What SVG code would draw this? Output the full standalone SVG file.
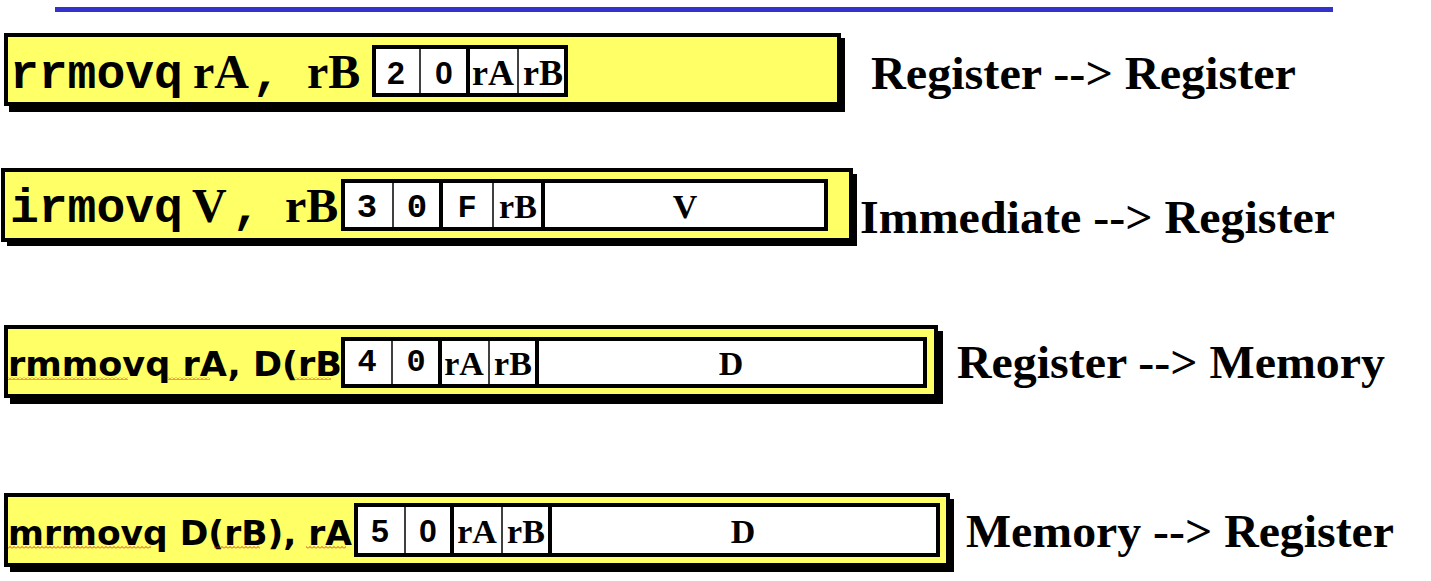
<svg xmlns="http://www.w3.org/2000/svg" width="1431" height="581" viewBox="0 0 1431 581">
<defs>
<pattern id="squig" width="4" height="3" patternUnits="userSpaceOnUse">
<path d="M0 2.5 L2 0.5 L4 2.5" fill="none" stroke="#e02020" stroke-width="0.9"/>
</pattern>
<style>
.shadow{fill:#000}
.box{fill:#FFFF66;stroke:#000;stroke-width:4}
.field{fill:#fff;stroke:#000;stroke-width:4}
.thin{stroke:#000;stroke-width:1.5}
.thick{stroke:#000;stroke-width:4}
.mono{font-family:"Liberation Mono","DejaVu Sans Mono",monospace;font-weight:bold}
.serif{font-family:"Liberation Serif","DejaVu Serif",serif;font-weight:bold}
.sans{font-family:"Liberation Sans",Arial,sans-serif;font-weight:bold}
.comic{font-family:"DejaVu Sans","Noto Sans",sans-serif;font-weight:bold;font-size:33px}
.lbl{font-family:"Liberation Serif","DejaVu Serif",serif;font-weight:bold;font-size:46px;fill:#000}
.cell{text-anchor:middle}
.sq{fill:url(#squig)}
</style>
</defs>
<rect x="55" y="7" width="1278" height="5" fill="#3333CC"/>

<g id="rrmovq">
<rect class="shadow" x="9" y="38" width="836" height="74"/>
<rect class="box" x="6" y="35" width="833" height="69"/>
<text x="10" y="88" class="mono" font-size="48">rrmovq</text>
<text x="193" y="88" class="serif" font-size="48">rA</text>
<text x="252" y="88" class="mono" font-size="48">,</text>
<text x="307" y="88" class="serif" font-size="48">rB</text>
<rect class="field" x="374" y="47" width="192" height="48"/>
<line class="thin" x1="420" y1="47" x2="420" y2="95"/>
<line class="thick" x1="468" y1="47" x2="468" y2="95"/>
<line class="thin" x1="518" y1="47" x2="518" y2="95"/>
<text x="396" y="84" class="sans cell" font-size="32">2</text>
<text x="444" y="84" class="sans cell" font-size="32">0</text>
<text x="493" y="85" class="serif cell" font-size="36">rA</text>
<text x="543" y="85" class="serif cell" font-size="36">rB</text>
</g>

<g id="irmovq">
<rect class="shadow" x="7" y="174" width="850" height="72"/>
<rect class="box" x="3" y="170" width="848" height="70"/>
<text x="10" y="222" class="mono" font-size="48">irmovq</text>
<text x="192" y="222" class="serif" font-size="48">V</text>
<text x="232" y="222" class="mono" font-size="48">,</text>
<text x="285" y="222" class="serif" font-size="48">rB</text>
<rect class="field" x="343" y="181" width="483" height="48"/>
<line class="thin" x1="393" y1="181" x2="393" y2="229"/>
<line class="thick" x1="441" y1="181" x2="441" y2="229"/>
<line class="thin" x1="493" y1="181" x2="493" y2="229"/>
<line class="thick" x1="543" y1="181" x2="543" y2="229"/>
<text x="367" y="217" class="mono cell" font-size="34">3</text>
<text x="417" y="217" class="mono cell" font-size="34">0</text>
<text x="467" y="217" class="mono cell" font-size="32">F</text>
<text x="518" y="218" class="serif cell" font-size="34">rB</text>
<text x="685" y="218" class="serif cell" font-size="34">V</text>
</g>

<g id="rmmovq">
<rect class="shadow" x="10" y="331" width="933" height="73"/>
<rect class="box" x="6" y="327" width="930" height="69"/>
<text x="8" y="376" class="comic" textLength="334" lengthAdjust="spacingAndGlyphs">rmmovq rA, D(rB</text>
<rect class="sq" x="8" y="377" width="120" height="3"/>
<rect class="sq" x="168" y="377" width="42" height="3"/>
<rect class="sq" x="295" y="377" width="36" height="3"/>
<rect class="field" x="343" y="339" width="582" height="47"/>
<line class="thin" x1="392" y1="339" x2="392" y2="386"/>
<line class="thick" x1="440" y1="339" x2="440" y2="386"/>
<line class="thin" x1="489" y1="339" x2="489" y2="386"/>
<line class="thick" x1="537" y1="339" x2="537" y2="386"/>
<text x="367" y="371" class="mono cell" font-size="32">4</text>
<text x="416" y="371" class="mono cell" font-size="32">0</text>
<text x="464" y="375" class="serif cell" font-size="34">rA</text>
<text x="513" y="375" class="serif cell" font-size="34">rB</text>
<text x="731" y="375" class="serif cell" font-size="34">D</text>
</g>

<g id="mrmovq">
<rect class="shadow" x="10" y="499" width="944" height="73"/>
<rect class="box" x="6" y="495" width="942" height="70"/>
<text x="8" y="545" class="comic" textLength="344" lengthAdjust="spacingAndGlyphs">mrmovq D(rB), rA</text>
<rect class="sq" x="8" y="546" width="143" height="3"/>
<rect class="sq" x="214" y="546" width="46" height="3"/>
<rect class="sq" x="306" y="546" width="40" height="3"/>
<rect class="field" x="356" y="505" width="582" height="50"/>
<line class="thin" x1="405" y1="505" x2="405" y2="555"/>
<line class="thick" x1="452" y1="505" x2="452" y2="555"/>
<line class="thin" x1="502" y1="505" x2="502" y2="555"/>
<line class="thick" x1="550" y1="505" x2="550" y2="555"/>
<text x="380" y="542" class="sans cell" font-size="32">5</text>
<text x="428" y="542" class="sans cell" font-size="32">0</text>
<text x="477" y="543" class="serif cell" font-size="34">rA</text>
<text x="526" y="543" class="serif cell" font-size="34">rB</text>
<text x="743" y="543" class="serif cell" font-size="34">D</text>
</g>

<g id="label-rr"><text class="lbl" x="871" y="89" textLength="425" lengthAdjust="spacingAndGlyphs">Register --&gt; Register</text></g>
<g id="label-ir"><text class="lbl" x="860" y="233" textLength="475" lengthAdjust="spacingAndGlyphs">Immediate --&gt; Register</text></g>
<g id="label-rm"><text class="lbl" x="957" y="378" textLength="428" lengthAdjust="spacingAndGlyphs">Register --&gt; Memory</text></g>
<g id="label-mr"><text class="lbl" x="966" y="547" textLength="428" lengthAdjust="spacingAndGlyphs">Memory --&gt; Register</text></g>
<g id="connectors"></g>
</svg>
